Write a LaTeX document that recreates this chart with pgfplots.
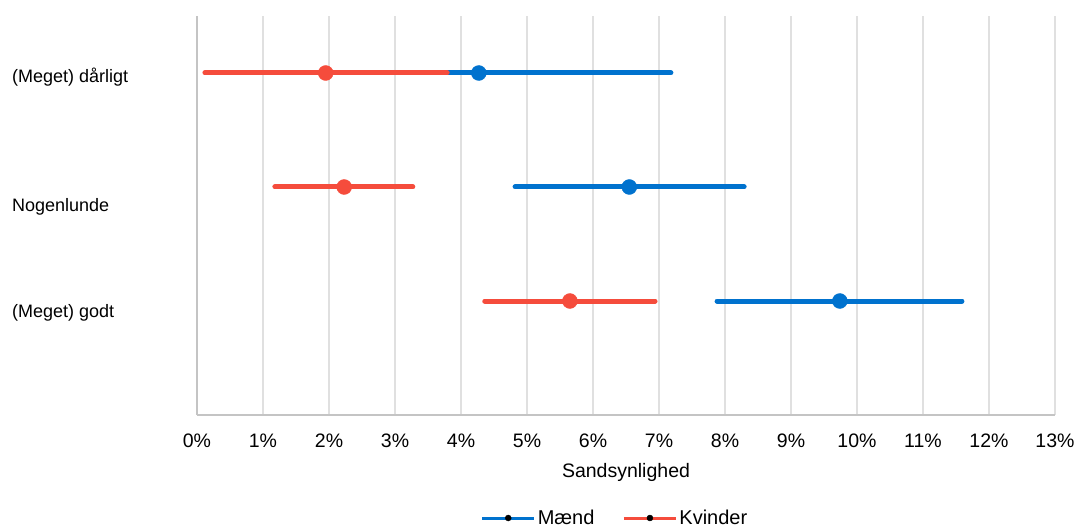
\documentclass[border=0pt]{standalone}
\usepackage{pgfplots}
\usepackage{pgfplotstable}
\pgfplotsset{compat=1.18}
\usepackage{fontspec}
\setmainfont{Liberation Sans}
\definecolor{mblue}{RGB}{0,114,206}
\definecolor{kred}{RGB}{245,76,60}
\definecolor{gridc}{RGB}{224,224,224}
\definecolor{axc}{RGB}{196,196,196}

\pgfplotstableread{
y est lo hi
3 4.27 1.40 7.18
2 6.55 4.82 8.29
1 9.74 7.88 11.59
}\maend
\pgfplotstableread{
y est lo hi
3 1.95 0.12 3.79
2 2.23 1.18 3.27
1 5.65 4.36 6.94
}\kvinder

\begin{document}
\begin{tikzpicture}
\useasboundingbox (-197pt,-115pt) rectangle (881pt,415pt);
\begin{axis}[
  at={(0,0)}, anchor=south west,
  scale only axis,
  width=858pt, height=399pt,
  xmin=0, xmax=13, ymin=0, ymax=3.5,
  axis lines*=left,
  axis line style={axc, line width=2pt},
  xtick={0,1,...,13},
  xticklabels={0\%,1\%,2\%,3\%,4\%,5\%,6\%,7\%,8\%,9\%,10\%,11\%,12\%,13\%},
  ytick={0.895,1.825,2.965},
  yticklabels={(Meget) godt,Nogenlunde,(Meget) dårligt},
  major tick length=0pt,
  xmajorgrids,
  grid style={gridc, line width=2pt},
  xticklabel style={font=\fontsize{19.5}{22}\selectfont, anchor=center, yshift=-26pt},
  yticklabel style={font=\fontsize{18}{22}\selectfont, anchor=west, inner sep=0pt, xshift=-185pt},
  xlabel={Sandsynlighed},
  xlabel style={font=\fontsize{19.5}{22}\selectfont, at={(axis description cs:0.5,0)}, anchor=center, yshift=-57pt},
  legend style={at={(axis description cs:0.5,0)}, anchor=center, yshift=-103pt, xshift=-11pt, draw=none, fill=none,
    font=\fontsize{20}{22}\selectfont, legend columns=2, inner sep=0pt,
    /tikz/every even column/.append style={column sep=26pt}},
  clip=false,
]
\addlegendimage{legend image code/.code={\draw[mblue,line width=3pt] (0pt,0pt)--(52pt,0pt); \fill[black] (26pt,0pt) circle (3pt);}}
\addlegendentry{Mænd}
\addlegendimage{legend image code/.code={\draw[kred,line width=3pt] (0pt,0pt)--(52pt,0pt); \fill[black] (26pt,0pt) circle (3pt);}}
\addlegendentry{Kvinder}

\addplot[only marks, mark=*, mark size=7.5pt, mblue, forget plot,
  error bars/.cd, x dir=both, x explicit, error mark=none,
  error bar style={line width=5pt, line cap=round, mblue}]
  table[x=est, y=y, x error plus expr=\thisrow{hi}-\thisrow{est}, x error minus expr=\thisrow{est}-\thisrow{lo}] {\maend};
\addplot[only marks, mark=*, mark size=7.5pt, kred, forget plot,
  error bars/.cd, x dir=both, x explicit, error mark=none,
  error bar style={line width=5pt, line cap=round, kred}]
  table[x=est, y=y, x error plus expr=\thisrow{hi}-\thisrow{est}, x error minus expr=\thisrow{est}-\thisrow{lo}] {\kvinder};
\end{axis}
\end{tikzpicture}
\end{document}
